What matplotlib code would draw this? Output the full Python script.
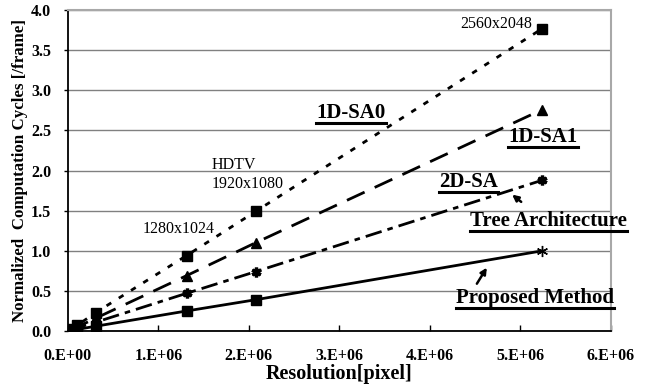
import matplotlib
matplotlib.use("Agg")
import matplotlib.pyplot as plt
from matplotlib.ticker import FixedLocator, FuncFormatter

# resolution in pixels: QCIF, CIF, VGA, SXGA, HDTV, QSXGA
resolution = [25344, 101376, 307200, 1310720, 2073600, 5242880]

sa0 = [0.02, 0.07, 0.23, 0.94, 1.49, 3.77]
sa1 = [0.015, 0.05, 0.16, 0.69, 1.10, 2.76]
sa2d_tree = [0.01, 0.04, 0.11, 0.47, 0.74, 1.88]
proposed = [0.005, 0.02, 0.06, 0.25, 0.39, 1.00]

x_ticks = [0, 1e6, 2e6, 3e6, 4e6, 5e6, 6e6]
y_ticks = [0.0, 0.5, 1.0, 1.5, 2.0, 2.5, 3.0, 3.5, 4.0]

plt.rcParams["font.family"] = ["Liberation Serif", "DejaVu Serif"]
plt.rcParams["font.weight"] = "bold"

fig = plt.figure(figsize=(6.47, 3.89), dpi=100)
ax = fig.add_axes([0.105, 0.149, 0.839, 0.825])

asterisk = (6, 2, 0)

ax.plot(resolution, sa0, color="black", lw=2, dashes=(2, 3.2),
        marker="s", ms=6.5, mfc="black", mec="black", zorder=5)
ax.plot(resolution, sa1, color="black", lw=2, dashes=(7, 4),
        marker="^", ms=6.5, mfc="black", mec="black", zorder=5)
ax.plot(resolution, sa2d_tree, color="black", lw=2, dashes=(6, 2.2, 2, 2.2),
        marker=asterisk, ms=7, mew=2.4, mec="black", zorder=5)
ax.plot(resolution, proposed, color="black", lw=2,
        marker="s", ms=6.5, mfc="black", mec="black", markevery=[0, 1, 2, 3, 4],
        zorder=5)
ax.plot(resolution[-1:], proposed[-1:], ls="none", marker=asterisk, ms=8,
        mew=1, mec="black", zorder=6)

ax.set_xlim(0, 6e6)
ax.set_ylim(0, 4.0)
ax.xaxis.set_major_locator(FixedLocator(x_ticks))
ax.yaxis.set_major_locator(FixedLocator(y_ticks))
ax.xaxis.set_major_formatter(FuncFormatter(lambda v, p: f"{int(round(v / 1e6))}.E+{6 if v else 0:02d}"))
ax.yaxis.set_major_formatter(FuncFormatter(lambda v, p: f"{v:.1f}"))

ax.tick_params(axis="x", direction="in", length=4, width=1, labelsize=11.5, pad=12)
ax.tick_params(axis="y", direction="out", length=3, width=1, labelsize=11.5, pad=9)

ax.grid(axis="y", color="#808080", lw=1)
ax.set_axisbelow(True)
for side in ["left", "bottom"]:
    ax.spines[side].set_color("black")
    ax.spines[side].set_linewidth(1.3)
for side in ["top", "right"]:
    ax.spines[side].set_color("#a8a8a8")
    ax.spines[side].set_linewidth(1.5)

ax.set_xlabel("Resolution[pixel]", fontsize=14.5, fontweight="bold", labelpad=0)
ax.set_ylabel("Normalized  Computation Cycles [/frame]", fontsize=12.2,
              fontweight="bold", labelpad=2)

# resolution notes
note = dict(fontsize=11.5, fontweight="normal", va="center")
ax.text(5.13e6, 3.83, "2560x2048", ha="right", **note)
ax.text(1.59e6, 2.07, "HDTV", ha="left", **note)
ax.text(1.59e6, 1.83, "1920x1080", ha="left", **note)
ax.text(0.83e6, 1.27, "1280x1024", ha="left", **note)

# series labels (underlined)
labels = [
    ("1D-SA0", 3.13e6, 2.72),
    ("1D-SA1", 5.25e6, 2.42),
    ("2D-SA", 4.43e6, 1.86),
    ("Tree Architecture", 5.31e6, 1.37),
    ("Proposed Method", 5.16e6, 0.41),
]
texts = []
for s, x, y in labels:
    texts.append(ax.text(x, y, s, fontsize=15, fontweight="bold",
                         ha="center", va="center", zorder=7))

ax.annotate("", xy=(4.91e6, 1.70), xytext=(5.01e6, 1.61),
            arrowprops=dict(arrowstyle="-|>", color="black", lw=1.8,
                            mutation_scale=9, shrinkA=0, shrinkB=0))
ax.annotate("", xy=(4.63e6, 0.79), xytext=(4.52e6, 0.59),
            arrowprops=dict(arrowstyle="-|>", color="black", lw=1.8,
                            mutation_scale=9, shrinkA=0, shrinkB=0))

fig.canvas.draw()
renderer = fig.canvas.get_renderer()
inv = fig.transFigure.inverted()
for t in texts:
    bb = t.get_window_extent(renderer)
    (x0, y0), (x1, _) = inv.transform([(bb.x0, bb.y0), (bb.x1, bb.y0)])
    fig.add_artist(plt.Line2D([x0, x1], [y0, y0], color="black", lw=2.2,
                              transform=fig.transFigure))

fig.savefig("out.png", dpi=100)
